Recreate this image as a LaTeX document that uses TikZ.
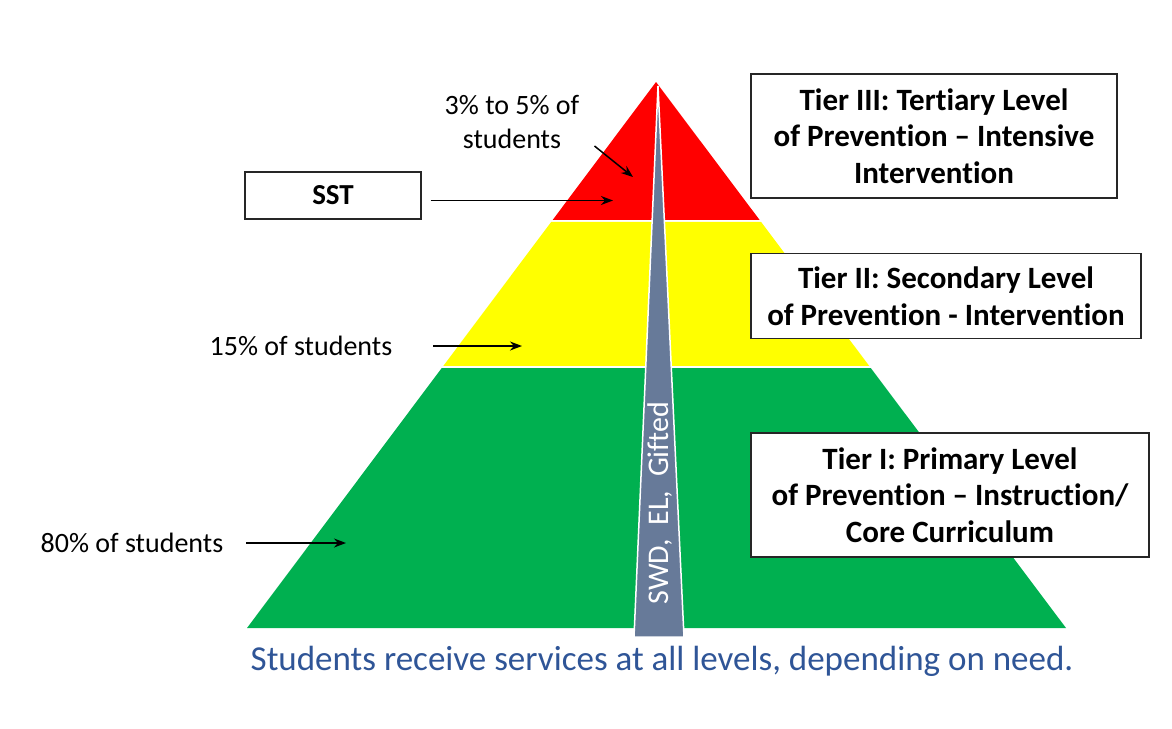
\documentclass[tikz,border=0pt]{standalone}
\usepackage{fontspec}
\setmainfont{Carlito}[Ligatures=NoCommon]
\usetikzlibrary{calc,arrows.meta}
\definecolor{tierred}{RGB}{255,0,0}
\definecolor{tieryellow}{RGB}{255,255,0}
\definecolor{tiergreen}{RGB}{0,176,80}
\definecolor{wedge}{RGB}{103,122,153}
\definecolor{noteblue}{RGB}{47,85,151}
\begin{document}
\begin{tikzpicture}[x=1pt,y=-1pt,
  tierbox/.style={draw=black!85,line width=1.3pt,fill=white,align=center,inner sep=0pt,font=\bfseries\fontsize{31}{36.5}\selectfont},
  lbl/.style={align=center,inner sep=0pt,font=\fontsize{28}{34}\selectfont},
  pointer/.style={-{Stealth[length=12pt,width=9pt]},line width=1.5pt}]
\useasboundingbox(0,0)rectangle(1172,728);
\coordinate(A)at(656,82);\coordinate(L)at(247,628);\coordinate(R)at(1066,628);%三角形
\fill[tierred](A)--($(A)!0.2527!(R)$)--($(A)!0.2527!(L)$)--cycle;%Tier III
\fill[tieryellow]($(A)!0.2564!(L)$)--($(A)!0.2564!(R)$)--($(A)!0.5201!(R)$)--($(A)!0.5201!(L)$)--cycle;%Tier II
\fill[tiergreen]($(A)!0.5238!(L)$)--($(A)!0.5238!(R)$)--(R)--(L)--cycle;%Tier I
\filldraw[fill=wedge,draw=white,line width=1.5pt](658,86)--(684,637)--(634,637)--cycle;%くさび
\node[rotate=90,text=white,inner sep=0pt,font=\fontsize{30}{34}\selectfont](grp)at(660,503){SWD,\ \ EL,\ \ Gifted};
\node[tierbox,minimum width=366,minimum height=124](t3)at(934,136){Tier III: Tertiary Level\\of Prevention -- Intensive\\Intervention};
\node[tierbox,minimum width=390,minimum height=85](t2)at(946,296){Tier II: Secondary Level\\of Prevention - Intervention};
\node[tierbox,minimum width=398,minimum height=124](t1)at(950,495){Tier I: Primary Level\\of Prevention -- Instruction/\\Core Curriculum};
\node[tierbox,font=\bfseries\fontsize{29}{34}\selectfont,minimum width=176,minimum height=47](sst)at(333,195.5){SST};
\node[lbl](p35)at(512,122){3\% to 5\% of\\students};
\node[lbl](p15)at(301,346){15\% of students};
\node[lbl](p80)at(132,543){80\% of students};
\node[text=noteblue,inner sep=0pt,font=\fontsize{35}{40}\selectfont](note)at(662,661){Students receive services at all levels, depending on need.};
\coordinate(h35)at(633,177);\coordinate(hsst)at(613,200.5);\coordinate(h15)at(522,346);\coordinate(h80)at(346,543);%矢印の先
\draw[pointer]($(p35.east)+(15,24)$)--(h35);
\draw[pointer]([xshift=9pt,yshift=-5pt]sst.east)--(hsst);
\draw[pointer]([xshift=41pt]p15.east)--(h15);
\draw[pointer]([xshift=23pt]p80.east)--(h80);
\end{tikzpicture}
\end{document}
